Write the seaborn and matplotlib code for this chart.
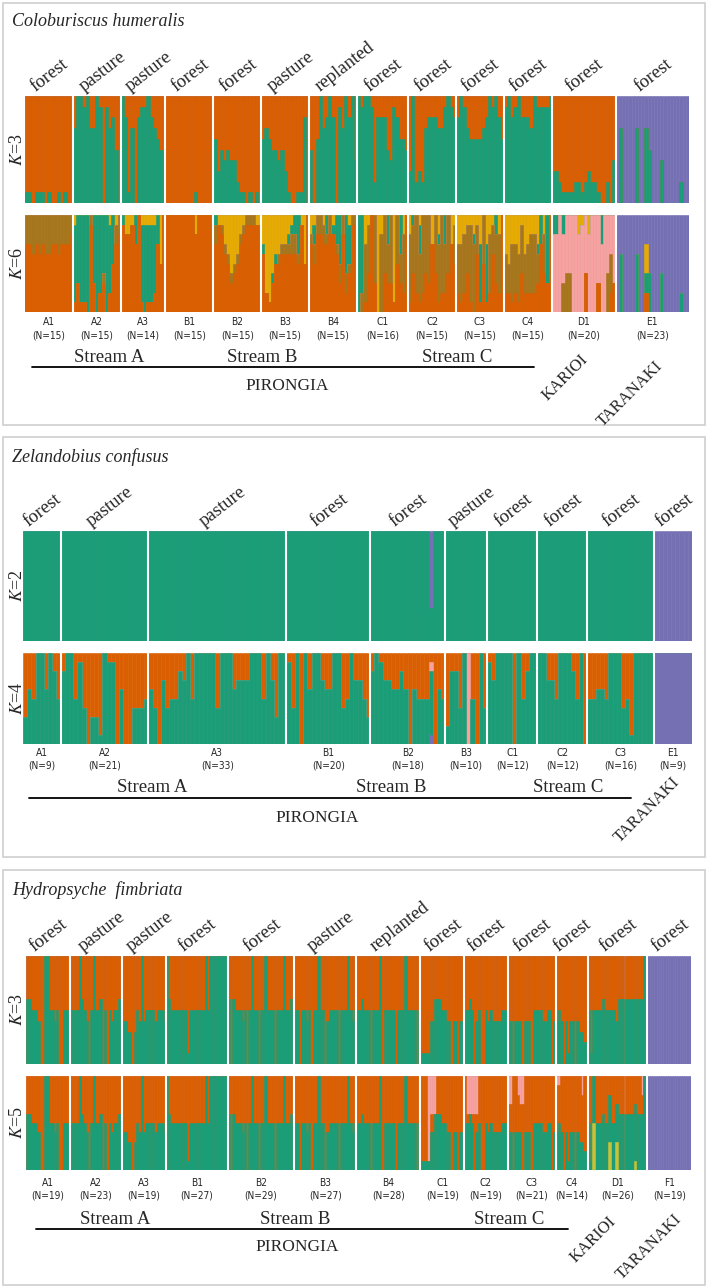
import numpy as np
import matplotlib
matplotlib.use("Agg")
import matplotlib.pyplot as plt
import seaborn as sns
from matplotlib.patches import Rectangle
from matplotlib.lines import Line2D

# Dark2-like colours used by the STRUCTURE bar plots
ORANGE = "#D95F02"
GREEN = "#1B9E77"
PURPLE = "#7570B3"
YELLOW = "#E6AB02"
BROWN = "#A6761D"
PINK = "#F8A1A1"
OLIVE = "#C8C23A"

# membership values: one character per individual, tenths (0-9, a = 1.0)
# "" means that cluster is absent from the population

# ---- Coloburiscus humeralis ----
ch_sites = ["A1", "A2", "A3", "B1", "B2", "B3", "B4", "C1", "C2", "C3", "C4", "D1", "E1"]
ch_n = [15, 15, 14, 15, 15, 15, 15, 16, 15, 15, 15, 20, 23]
ch_habitat = ["forest", "pasture", "pasture", "forest", "forest", "pasture", "replanted",
              "forest", "forest", "forest", "forest", "forest", "forest"]
ch_k3_green = ["110111010010100", "7aa9a77a9097850", "a8170899a87655", "000000000100000",
               "635454421101010", "676554531001180", "506a78a8097a8a4", "a9aa928885498665",
               "3a2327888779a98", "8a97666678a9a86", "9a89a8887a9999a", "33211112212322100204",
               "07000070075000400000200"]
ch_k3_purple = ["", "", "", "", "", "", "", "", "", "", "", "", "a3aaaa3aa35aaa6aaaaa8aa"]
ch_k6_brown = ["334343443343332", "000001000100022", "", "", "201111111111100",
               "000001111221000", "122221201222111", "0265070864705360", "758586706685604",
               "566587305063560", "436555456630400", "00034400000000000440", ""]
ch_k6_pink = ["", "", "", "", "", "", "", "", "", "", "", "88a566aa8968aa77a647", ""]
ch_k6_green = ["", "8799a07a86a7500", "10003089887300", "", "100000000000000",
               "100110001124000", "020002013506400", "a800000003000400", "010300000103000",
               "000001060600200", "000000000013070", "22020000000000030000",
               "06000060024000400000200"]
ch_k6_yellow = ["", "100000000001010", "02210011111050", "000000000200000", "011346542100011",
                "389644332100150", "210010010000100", "003100a200090020", "200100030200031",
                "332112130321020", "453341432230200", "00000000210200000000",
                "00000000030000000000000"]
ch_k6_purple = ["", "", "", "", "", "", "", "", "", "", "", "", "a4aaaa4aa36aaa6aaaaa8aa"]

# ---- Zelandobius confusus ----
zc_sites = ["A1", "A2", "A3", "B1", "B2", "B3", "C1", "C2", "C3", "E1"]
zc_n = [9, 21, 33, 20, 18, 10, 12, 12, 16, 9]
zc_habitat = ["forest", "pasture", "pasture", "forest", "forest", "pasture",
              "forest", "forest", "forest", "forest"]
zc_k2_purple = ["", "", "", "", "000000000000007000", "", "", "", "", "aaaaaaaaa"]
zc_k4_green = ["365aa6a85", "8aa5940331a9906004445", "640745587a5aaaaa4aaa6777aaa5a73aa",
               "94a0a6aa766aa45a7753", "8a9776686065557065", "2884a050a4", "97aaaa0a58aa",
               "aa775aaa85a0", "55665aaa451aaaaa", ""]
zc_k4_pink = ["", "", "", "", "000000000000001000", "00000a0000", "", "", "", ""]
zc_k4_purple = ["", "", "", "", "000000000000001000", "", "", "", "", "aaaaaaaaa"]

# ---- Hydropsyche fimbriata ----
hf_sites = ["A1", "A2", "A3", "B1", "B2", "B3", "B4", "C1", "C2", "C3", "C4", "D1", "F1"]
hf_n = [19, 23, 19, 27, 29, 27, 28, 19, 19, 21, 14, 26, 19]
hf_habitat = ["forest", "pasture", "pasture", "forest", "forest", "pasture", "replanted",
              "forest", "forest", "forest", "forest", "forest", "forest"]
hf_green = ["66555400aa554500555", "5555a65405a556050545566", "44330354a4555545554",
            "a6555555515555555a5aaaaaaaa", "6065554505a55055a5550555a5565",
            "5505545055a550455550555a545", "5565550555a0555550555a555505",
            "1111446665544044044", "5565045005454444555", "440444044405555445504",
            "45404144043322", "515555655555466666666666aa", ""]
hf_purple = ["", "", "", "", "", "", "", "", "", "", "", "", "aaaaaaaaaaaaaaaaaaa"]
hf_k5_pink = ["", "", "", "", "", "", "", "0009444000000000000", "0444440000000000000",
              "330023300000000000000", "11000000000200", "00000000000000000000000200", ""]
hf_k5_yellow = ["", "", "", "", "", "", "", "", "", "", "", "00500000030030000000100000", ""]


def parse(strings, sizes):
    vals = []
    for s, k in zip(strings, sizes):
        if s == "":
            vals.extend([0.0] * k)
        else:
            assert len(s) == k, (s, k)
            vals.extend(int(c, 11) / 10 for c in s)
    return np.array(vals)


sns.set_theme(style="white")
plt.rcParams["font.family"] = ["Liberation Serif", "DejaVu Serif"]
plt.rcParams["mathtext.fontset"] = "stix"

W, H = 709, 1288
fig = plt.figure(figsize=(W / 100, H / 100), dpi=100)


def fx(x):
    return x / W


def fy(y):
    return 1 - y / H


def draw_row(left, right, top, bottom, sizes, layers):
    ax = fig.add_axes([fx(left), fy(bottom), (right - left) / W, (bottom - top) / H])
    total = sum(sizes)
    known = sum(parse(v, sizes) for c, v in layers if v is not None)
    rest = np.clip(1 - known, 0, None)
    vals = np.array([parse(v, sizes) if v is not None else rest for c, v in layers])
    vals = vals / vals.sum(axis=0)
    cum = np.cumsum(vals, axis=0)
    idx = np.arange(total)
    for (c, _), top_vals in reversed(list(zip(layers, cum))):
        sns.barplot(x=idx, y=top_vals, color=c, width=1, saturation=1, errorbar=None,
                    native_scale=True, edgecolor=c, linewidth=0.4, ax=ax)
    for b in np.cumsum(sizes)[:-1]:
        ax.axvline(b - 0.5, color="white", lw=1.5)
    ax.set_xlim(-0.5, total - 0.5)
    ax.set_ylim(0, 1)
    ax.axis("off")
    starts = np.concatenate([[0], np.cumsum(sizes)[:-1]])
    centers = [left + (s + k / 2) / total * (right - left) for s, k in zip(starts, sizes)]
    return centers


def panel(box, title, title_y, rows, sites, sizes, habitats, hab_y, site_y,
          streams, stream_y, line, pir, regions):
    x0, y0, x1, y1 = box
    fig.patches.append(Rectangle((fx(x0), fy(y1)), (x1 - x0) / W, (y1 - y0) / H,
                                 transform=fig.transFigure, fill=False,
                                 edgecolor="#D2D2D2", lw=1.3))
    fig.text(fx(12), fy(title_y), title, fontsize=13, style="italic", va="center", ha="left")
    centers = None
    for (left, right, top, bottom, klabel, layers) in rows:
        centers = draw_row(left, right, top, bottom, sizes, layers)
        fig.text(fx(17), fy((top + bottom) / 2), klabel, rotation=90, fontsize=13,
                 va="center", ha="center")
    for c, h in zip(centers, habitats):
        fig.text(fx(c - 13), fy(hab_y), h, rotation=38, rotation_mode="anchor",
                 ha="left", va="baseline", fontsize=13.5)
    for c, s, k in zip(centers, sites, sizes):
        fig.text(fx(c), fy(site_y), s, ha="center", va="center", fontsize=7.3,
                 family="DejaVu Sans", stretch="condensed")
        fig.text(fx(c), fy(site_y + 13), "(N=%d)" % k, ha="center", va="center", fontsize=7.3,
                 family="DejaVu Sans", stretch="condensed")
    for name, x in streams:
        fig.text(fx(x), fy(stream_y), name, ha="center", va="center", fontsize=13.5)
    lx0, lx1, ly = line
    fig.lines.append(Line2D([fx(lx0), fx(lx1)], [fy(ly), fy(ly)], color="black", lw=1.3,
                            transform=fig.transFigure))
    fig.text(fx(pir[0]), fy(pir[1]), "PIRONGIA", ha="center", va="center", fontsize=12.5)
    for name, x, y in regions:
        fig.text(fx(x), fy(y), name, ha="center", va="center", rotation=45, fontsize=12)


panel((3, 3, 705, 425), "Coloburiscus humeralis", 22,
      [(25, 689, 96, 203, "$K$=3",
        [(GREEN, ch_k3_green), (ORANGE, None), (PURPLE, ch_k3_purple)]),
       (25, 689, 215, 312, "$K$=6",
        [(ORANGE, None), (BROWN, ch_k6_brown), (PINK, ch_k6_pink), (GREEN, ch_k6_green),
         (YELLOW, ch_k6_yellow), (PURPLE, ch_k6_purple)])],
      ch_sites, ch_n, ch_habitat, 92, 322,
      [("Stream A", 109), ("Stream B", 262), ("Stream C", 457)], 358,
      (32, 534, 367), (287, 386),
      [("KARIOI", 565, 378), ("TARANAKI", 630, 394)])

panel((3, 437, 705, 857), "Zelandobius confusus", 457,
      [(23, 692, 531, 641, "$K$=2",
        [(GREEN, None), (PURPLE, zc_k2_purple)]),
       (23, 692, 653, 744, "$K$=4",
        [(PURPLE, zc_k4_purple), (GREEN, zc_k4_green), (PINK, zc_k4_pink), (ORANGE, None)])],
      zc_sites, zc_n, zc_habitat, 527, 753,
      [("Stream A", 152), ("Stream B", 391), ("Stream C", 568)], 787,
      (29, 631, 798), (317, 818),
      [("TARANAKI", 647, 810)])

panel((3, 870, 705, 1285), "Hydropsyche  fimbriata", 890,
      [(26, 691, 956, 1064, "$K$=3",
        [(GREEN, hf_green), (ORANGE, None), (PURPLE, hf_purple)]),
       (26, 691, 1076, 1170, "$K$=5",
        [(OLIVE, hf_k5_yellow), (GREEN, hf_green), (ORANGE, None), (PINK, hf_k5_pink),
         (PURPLE, hf_purple)])],
      hf_sites, hf_n, hf_habitat, 952, 1183,
      [("Stream A", 115), ("Stream B", 295), ("Stream C", 509)], 1219,
      (36, 568, 1229), (297, 1247),
      [("KARIOI", 593, 1240), ("TARANAKI", 649, 1247)])

fig.savefig("out.png", dpi=100, facecolor="white")
